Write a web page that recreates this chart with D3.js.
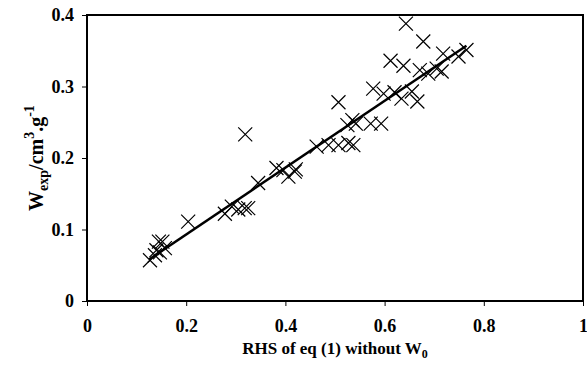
<!DOCTYPE html>
<html>
<head>
<meta charset="utf-8">
<script src="https://cdn.jsdelivr.net/npm/d3@7"></script>
<style>
  body { margin: 0; background: #fff; }
  text { font-family: "Liberation Serif", "Times New Roman", serif; font-weight: bold; fill: #000; }
</style>
</head>
<body>
<div id="chart"></div>
<script>
// data
const rhsValues = [0.127, 0.137, 0.140, 0.145, 0.152, 0.157, 0.147, 0.204, 0.278, 0.292,
  0.305, 0.318, 0.325, 0.319, 0.345, 0.382, 0.396, 0.406, 0.419, 0.421,
  0.463, 0.487, 0.507, 0.527, 0.537, 0.507, 0.525, 0.542, 0.572, 0.593,
  0.577, 0.598, 0.620, 0.634, 0.655, 0.666, 0.612, 0.638, 0.643, 0.678,
  0.671, 0.688, 0.705, 0.715, 0.718, 0.749, 0.765, 0.535];
const wExpValues = [0.057, 0.064, 0.071, 0.083, 0.083, 0.074, 0.068, 0.111, 0.122, 0.132,
  0.128, 0.130, 0.130, 0.233, 0.165, 0.186, 0.183, 0.174, 0.181, 0.184,
  0.216, 0.218, 0.218, 0.221, 0.218, 0.278, 0.246, 0.248, 0.248, 0.248,
  0.297, 0.290, 0.292, 0.283, 0.293, 0.279, 0.336, 0.329, 0.388, 0.363,
  0.323, 0.318, 0.325, 0.321, 0.346, 0.342, 0.351, 0.253];
const fitX = [0.125, 0.765];
const fitY = [0.058, 0.357];
const xTicks = [0, 0.2, 0.4, 0.6, 0.8, 1];
const yTicks = [0, 0.1, 0.2, 0.3, 0.4];

const width = 587, height = 381;
const margin = { top: 15, right: 3, bottom: 80, left: 87 };

const svg = d3.select("#chart").append("svg")
  .attr("width", width).attr("height", height);

const x = d3.scaleLinear().domain([0, 1]).range([margin.left, width - margin.right - 1]);
const y = d3.scaleLinear().domain([0, 0.4]).range([height - margin.bottom, margin.top]);

// frame
svg.append("rect")
  .attr("x", x(0)).attr("y", y(0.4))
  .attr("width", x(1) - x(0)).attr("height", y(0) - y(0.4))
  .attr("fill", "none").attr("stroke", "#000").attr("stroke-width", 2);

// axes
const fmt = d => d === 0 || d === 1 ? String(d) : d.toFixed(1);
const xAxis = svg.append("g")
  .attr("transform", `translate(0,${y(0)})`)
  .call(d3.axisBottom(x).tickValues(xTicks).tickSize(5).tickPadding(13).tickFormat(fmt));
const yAxis = svg.append("g")
  .attr("transform", `translate(${x(0)},0)`)
  .call(d3.axisLeft(y).tickValues(yTicks).tickSize(5).tickPadding(8).tickFormat(fmt));
[xAxis, yAxis].forEach(g => {
  g.select(".domain").remove();
  g.selectAll(".tick line").attr("stroke", "#000");
  g.selectAll(".tick text").style("font-size", "18px");
});

// fit line
svg.append("path")
  .datum(fitX.map((d, i) => [d, fitY[i]]))
  .attr("d", d3.line().x(d => x(d[0])).y(d => y(d[1])))
  .attr("fill", "none").attr("stroke", "#000").attr("stroke-width", 2.5);

// markers
const s = 7;
svg.append("g").selectAll("path")
  .data(rhsValues.map((d, i) => [d, wExpValues[i]]))
  .join("path")
  .attr("d", d => {
    const cx = x(d[0]), cy = y(d[1]);
    return `M${cx - s},${cy - s}L${cx + s},${cy + s}M${cx - s},${cy + s}L${cx + s},${cy - s}`;
  })
  .attr("stroke", "#000").attr("stroke-width", 1.2).attr("fill", "none");

// x title
const xt = svg.append("text")
  .attr("x", (x(0) + x(1)) / 2).attr("y", 354)
  .attr("text-anchor", "middle").style("font-size", "17px");
xt.append("tspan").text("RHS of eq (1) without W");
xt.append("tspan").attr("dy", 4).style("font-size", "12px").text("0");

// y title
const yt = svg.append("text")
  .attr("transform", `translate(43,${(y(0) + y(0.4)) / 2}) rotate(-90)`)
  .attr("text-anchor", "middle").style("font-size", "20px");
yt.append("tspan").text("W");
yt.append("tspan").attr("dy", 5).style("font-size", "14px").text("exp");
yt.append("tspan").attr("dy", -5).text("/cm");
yt.append("tspan").attr("dy", -9).style("font-size", "14px").text("3");
yt.append("tspan").attr("dy", 9).text(".g");
yt.append("tspan").attr("dy", -9).style("font-size", "14px").text("-1");
</script>
</body>
</html>
